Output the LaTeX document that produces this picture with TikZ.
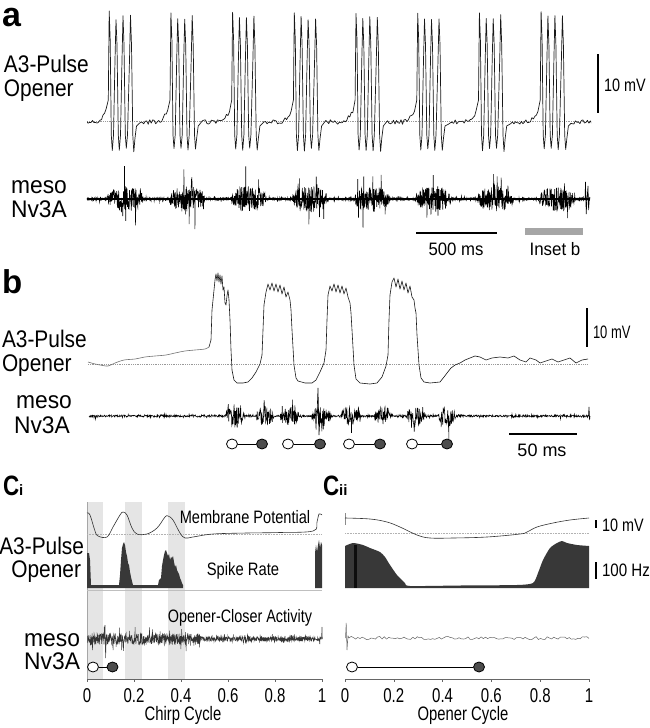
\documentclass[tikz,border=0pt]{standalone}
\usepackage{fontspec}
\setmainfont{Liberation Sans}
\usepackage{graphicx}
\usetikzlibrary{shapes.geometric}
\newcommand\lb[3]{\scalebox{#1}[1]{\fontsize{#2}{#2}\selectfont #3}}
\newcommand\lbb[3]{\scalebox{#1}[1]{\fontsize{#2}{#2}\selectfont\bfseries #3}}
\tikzset{
  lab/.style={inner sep=0pt, outer sep=0pt},
  sbar/.style={line width=2.5pt, black},
  oc/.style={ellipse, draw=black, line width=0.8pt, fill=white, minimum width=11pt, minimum height=10pt, inner sep=0pt},
  fc/.style={oc, fill=black!70},
  link/.style={line width=0.9pt, black},
  zero/.style={densely dotted, black!40, line width=0.8pt},
  band/.style={fill=black!10},
  hist/.style={fill=black!78},
  memb/.style={line width=0.6pt, black!80, line join=round},
  axisl/.style={line width=0.6pt, black!60},
}
\begin{document}
\begin{tikzpicture}[x=1pt,y=-1pt,
  declare function={
    phA(\x)=mod(\x-107+617,61.7);
    envA(\x)=(phA(\x)<36)*12*sqrt(abs(sin(phA(\x)/36*180)))+1.2;
    bmp(\x,\cc,\ww)=(abs(\x-\cc)<\ww)*sqrt(abs(cos((\x-\cc)/\ww*90)));
    envB(\x)=9*(bmp(\x,235,10)+bmp(\x,265,9)+bmp(\x,289.5,9.5)+bmp(\x,321.5,10)+bmp(\x,350.5,10)+bmp(\x,383,9)+bmp(\x,416,9)+bmp(\x,447,9))+1;
  }]
\pgfmathsetseed{7}
\useasboundingbox (0,0) rectangle (649,728);
\fill[white] (0,0) rectangle (649,728);

%% ---------------- panel a ----------------
\node[lab, anchor=base west] (pa) at (2,26) {\lbb{1}{34}{a}};
\node[lab, anchor=base west] (aA) at (4,72) {\lb{0.87}{24}{A3-Pulse}};
\node[lab, anchor=base west] (aO) at (4,96) {\lb{0.87}{24}{Opener}};
\node[lab, anchor=base] (aM) at (39,193) {\lb{0.95}{24}{meso}};
\node[lab, anchor=base] (aN) at (39,217) {\lb{0.95}{24}{Nv3A}};

\draw[zero] (87,121) -- (590,121);
\begin{scope}
\clip (87,0) rectangle (591,170);
\draw[memb, black!90, line width=0.7pt]
  (78,122)
  \foreach \s in {108,169.7,231.4,293.1,354.8,416.5,478.2,539.9}{
    \foreach \o in {-29,-27.5,...,-2} { -- ({\s+\o},{122-11*max(0,(\o+14)/12)^2+2.2*rand}) }
    -- ({\s+0.3},100) -- ({\s+1.2},{10+4*rnd}) -- ({\s+2.2},40) -- ({\s+3.3},135) -- ({\s+4.3},{148+3*rnd}) -- ({\s+5.5},135)
    -- ({\s+7},60) -- ({\s+8},{15+5*rnd}) -- ({\s+9},45) -- ({\s+10.3},135) -- ({\s+11.3},{148+3*rnd}) -- ({\s+12.5},135)
    -- ({\s+14},60) -- ({\s+15},{15+5*rnd}) -- ({\s+16},45) -- ({\s+17.3},135) -- ({\s+18.3},{148+3*rnd}) -- ({\s+19.5},135)
    -- ({\s+21.5},60) -- ({\s+22.5},{14+5*rnd}) -- ({\s+23.5},45) -- ({\s+24.8},135) -- ({\s+25.8},{149+3*rnd}) -- ({\s+27},138) -- ({\s+28.5},126)
  }
  \foreach \o in {31,32.5,...,52} { -- ({539.9+\o},{122+2.2*rand}) };
\end{scope}
\draw[sbar] (598,54) -- (598,113);
\node[lab, anchor=base west] (a10) at (604,91) {\lb{0.8}{18}{10 mV}};

\draw[line width=2pt] (87,199) -- (590,199);
\draw[line width=0.55pt] plot[variable=\x, domain=87:590, samples=2000] (\x,{199+envA(\x)*rand*(1+1.6*(rnd>0.94))});
\draw[line width=0.6pt] (585,199) -- (585.5,182) -- (586.2,214) -- (587,199) -- (588,186) -- (588.6,210) -- (589.3,199);
\draw[sbar] (416,233) -- (497,233);
\node[lab, anchor=base] (a500) at (456,255) {\lb{0.93}{18}{500 ms}};
\draw[line width=7pt, black!35] (525,231) -- (583,231);
\node[lab, anchor=base] (ains) at (555,255) {\lb{0.94}{18}{Inset b}};

%% ---------------- panel b ----------------
\node[lab, anchor=base west] (pb) at (2,293) {\lbb{1}{33}{b}};
\node[lab, anchor=base west] (bA) at (2,347) {\lb{0.87}{24}{A3-Pulse}};
\node[lab, anchor=base west] (bO) at (2,371) {\lb{0.87}{24}{Opener}};
\node[lab, anchor=base] (bM) at (44,408) {\lb{0.95}{24}{meso}};
\node[lab, anchor=base] (bN) at (42,433) {\lb{0.95}{24}{Nv3A}};

\draw[zero] (88,364) -- (588,364);
\draw[memb, black!55] plot[smooth, tension=0.5] coordinates {(88,362) (95,364) (100,365) (108,366) (115,363) (124,360) (135,359) (145,357) (155,356) (166,355) (175,353) (185,351) (195,350) (205,349) (209,347)};
\draw[memb, black!90] (209,347) -- (211,340) -- (212,310) -- (213,300) -- (214,290) -- (215,280) -- (216,274) -- (217,281) -- (218,273) -- (219,282) -- (220,275) -- (221,284) -- (222,276) -- (223,290) -- (224,287) -- (225,303) -- (226,305) -- (227,296) -- (228,290) -- (229,300) -- (230,320) -- (231,350) -- (232,370) -- (234,380) -- (237,383) -- (243,383) -- (248,382) -- (252,378) -- (256,372) -- (260,364) -- (262,355) -- (263,330) -- (264,305) -- (266,292) -- (268,284) -- (270,290) -- (272,283) -- (274,291) -- (276,284) -- (278,292) -- (280,285) -- (282,294) -- (284,287) -- (286,297) -- (288,292) -- (290,300) -- (291,310) -- (292,330) -- (294,365) -- (296,378) -- (298,381) -- (305,383) -- (312,383) -- (316,380) -- (320,372) -- (324,363) -- (326,350) -- (327,320) -- (328,295) -- (330,286) -- (332,291) -- (334,284) -- (336,292) -- (338,285) -- (340,293) -- (342,286) -- (344,294) -- (346,288) -- (348,297) -- (350,303) -- (351,313) -- (352,330) -- (354,365) -- (356,379) -- (360,383) -- (370,384) -- (377,383) -- (382,377) -- (386,366) -- (388,355) -- (389,320) -- (390,295) -- (392,282) -- (394,278) -- (396,287) -- (398,279) -- (400,289) -- (402,281) -- (404,290) -- (406,283) -- (408,293) -- (410,286) -- (412,297) -- (414,300) -- (415,308) -- (416,313) -- (417,335) -- (419,365) -- (421,378) -- (424,382) -- (430,383) -- (440,382) -- (444,377) -- (447,373) -- (451,368) -- (455,365) -- (460,363) -- (465,360) -- (470,358) -- (475,356) -- (480,357) -- (486,360) -- (492,358) -- (500,357) -- (508,358) -- (514,356) -- (520,360) -- (526,362) -- (530,358) -- (536,360) -- (540,363) -- (546,361) -- (552,359) -- (558,362) -- (564,360) -- (570,358) -- (576,363) -- (582,360) -- (588,359);
\draw[sbar] (587,308) -- (587,347);
\node[lab, anchor=base west] (b10) at (593,338) {\lb{0.72}{18}{10 mV}};

\draw[line width=0.55pt] plot[variable=\x, domain=89:589, samples=1300] (\x,{416+envB(\x)*rand*(1+0.7*(rnd>0.85))+3*(rnd>0.98)*rand});
\draw[line width=0.6pt] (317,416) -- (318,388) -- (319,435) -- (320,416);
\draw[line width=0.6pt] (448.5,416) -- (449,443);
\draw[line width=0.6pt] (588.5,416) -- (589,407) -- (589.6,420) -- (590,416);

\foreach \i/\xo/\xf in {1/232/262, 2/288/320, 3/349/380, 4/412/447}{
  \node[oc] (bo\i) at (\xo,444) {};
  \node[fc] (bf\i) at (\xf,444) {};
  \draw[link] (bo\i) -- (bf\i);
}
\draw[sbar] (509,434) -- (577,434);
\node[lab, anchor=base] (b50) at (542,456) {\lb{1}{18}{50 ms}};

%% ---------------- panel Ci ----------------
\node[lab, anchor=base west] (pc1) at (3,495) {\lbb{0.8}{28}{C}\lbb{1}{15}{i}};
\node[lab, anchor=base east] (cA) at (84,554) {\lb{0.87}{24}{A3-Pulse}};
\node[lab, anchor=base east] (cO) at (81,577) {\lb{0.87}{24}{Opener}};
\node[lab, anchor=base east] (cM) at (80,646) {\lb{0.95}{24}{meso}};
\node[lab, anchor=base east] (cN) at (80,669) {\lb{0.95}{24}{Nv3A}};

\fill[band] (87,502) rectangle (103,679);
\fill[band] (125,502) rectangle (142,679);
\fill[band] (168,502) rectangle (185,679);
\draw[black!35, line width=0.5pt] (87,502) -- (87,679);
\draw[black!25, line width=0.5pt] (87,590) -- (322,590);

\draw[zero, black!30, line width=0.6pt] (87,534) -- (322,534);
\draw[memb] plot[smooth, tension=0.6] coordinates {(87,513) (90,515) (95,531) (98,536) (107,537) (113,527) (120,515) (123,512) (127,515) (132,528) (137,534) (147,534) (157,528) (165,517) (168,516) (173,520) (180,533) (185,538) (193,537) (213,534) (247,533) (280,532.5) (313,531) (317,522) (319,514) (322,515)};
\node[lab, anchor=base] (cmp) at (245,523) {\lb{0.81}{18}{Membrane Potential}};

\fill[hist] (87,588) -- (87,553) -- (89,553) -- (90,560) -- (91,585) -- (119,585) -- (120,575) -- (121,560) -- (122,548) -- (123,544) -- (124,542) -- (125,545) -- (126,552) -- (127,556) -- (128,563) -- (129,565) -- (130,572) -- (131,577) -- (133,585) -- (158,585) -- (159,580) -- (161,578) -- (162,566) -- (163,560) -- (164,555) -- (165,551) -- (166,550) -- (167,553) -- (168,556) -- (169,554) -- (170,560) -- (171,557) -- (172,558) -- (173,556) -- (174,562) -- (175,567) -- (176,565) -- (177,570) -- (178,572) -- (179,574) -- (180,578) -- (181,580) -- (182,583) -- (183,585) -- (183,588) -- cycle;
\fill[hist] (315,588) -- (315,553) -- (316,545) -- (317,552) -- (318,545) -- (319,540) -- (320,548) -- (321,542) -- (322,545) -- (322,588) -- cycle;
\node[lab, anchor=base] (csr) at (243,575) {\lb{0.82}{18}{Spike Rate}};

\node[lab, anchor=base] (coc) at (240,622) {\lb{0.8}{18}{Opener-Closer Activity}};
\draw[line width=0.45pt, black!80] plot[variable=\x, domain=87.5:321.5, samples=1000] (\x,{639+((\x<200)*3.5+2.2)*rand*(1+1.2*(rnd>0.9))});
\draw[line width=0.5pt, black!75] (104.5,639) -- (105,625) -- (105.6,658) -- (106.2,639);
\draw[line width=0.5pt, black!75] (321.5,639) -- (322,627) -- (322.3,639);

\node[oc] (co) at (93,667) {};
\node[fc] (cf) at (112.5,667) {};
\draw[link] (co) -- (cf);

\draw[axisl] (87,679) -- (322,679);
\foreach \i/\t in {0/0,1/0.2,2/0.4,3/0.6,4/0.8,5/1}{
  \draw[axisl] ({87+47*\i},679) -- ++(0,3);
  \node[lab, anchor=base] (cit\i) at ({87+47*\i},702) {\lb{0.75}{20}{\t}};
}
\node[lab, anchor=base] (cix) at (183,720) {\lb{0.76}{19.5}{Chirp Cycle}};

%% ---------------- panel Cii ----------------
\node[lab, anchor=base west] (pc2) at (323,495) {\lbb{0.8}{28}{C}\lbb{1}{15}{ii}};

\draw[black!45, line width=0.6pt] (345,513) -- (345,525);
\draw[zero, black!30, line width=0.6pt] (345,533) -- (589,533);
\draw[memb] plot[smooth, tension=0.6] coordinates {(345,518) (370,519) (387,522) (400,527) (417,535) (430,538) (453,538) (487,537) (520,534) (527,532) (537,527) (553,523) (570,520) (589,518)};
\draw[sbar, line width=2.5pt] (596,520) -- (596,528);
\node[lab, anchor=west] (d10) at (602,525) {\lb{0.8}{18}{10 mV}};

\fill[hist] plot[smooth, tension=0.4] coordinates {(345,546) (353,543) (363,545) (370,548) (380,552) (385,557) (390,565) (397,575) (405,583) (410,586) (460,585.5) (517,585) (533,583) (538,573) (543,560) (550,548) (557,543) (562,541) (567,543) (577,545) (589,546)} -- (589,588) -- (345,588) -- cycle;
\draw[line width=3pt, black!95] (355,545) -- (355,588);
\draw[sbar] (596,562) -- (596,579);
\node[lab, anchor=west] (d100) at (602,570) {\lb{0.84}{18}{100 Hz}};

\draw[line width=0.5pt, black!60] plot[smooth, variable=\x, domain=349:589, samples=110] (\x,{638+1.6*rand});
\draw[line width=0.5pt, black!60] (345.5,638) -- (346.2,623) -- (347,650) -- (348,636) -- (349,638);

\node[oc] (do) at (352,667) {};
\node[fc] (df) at (479,667) {};
\draw[link] (do) -- (df);

\draw[axisl] (345,679) -- (589,679);
\foreach \i/\t in {0/0,1/0.2,2/0.4,3/0.6,4/0.8,5/1}{
  \draw[axisl] ({345+48.8*\i},679) -- ++(0,3);
  \node[lab, anchor=base] (dit\i) at ({345+48.8*\i},702) {\lb{0.75}{20}{\t}};
}
\node[lab, anchor=base] (dix) at (463,720) {\lb{0.76}{19.5}{Opener Cycle}};
\end{tikzpicture}
\end{document}
